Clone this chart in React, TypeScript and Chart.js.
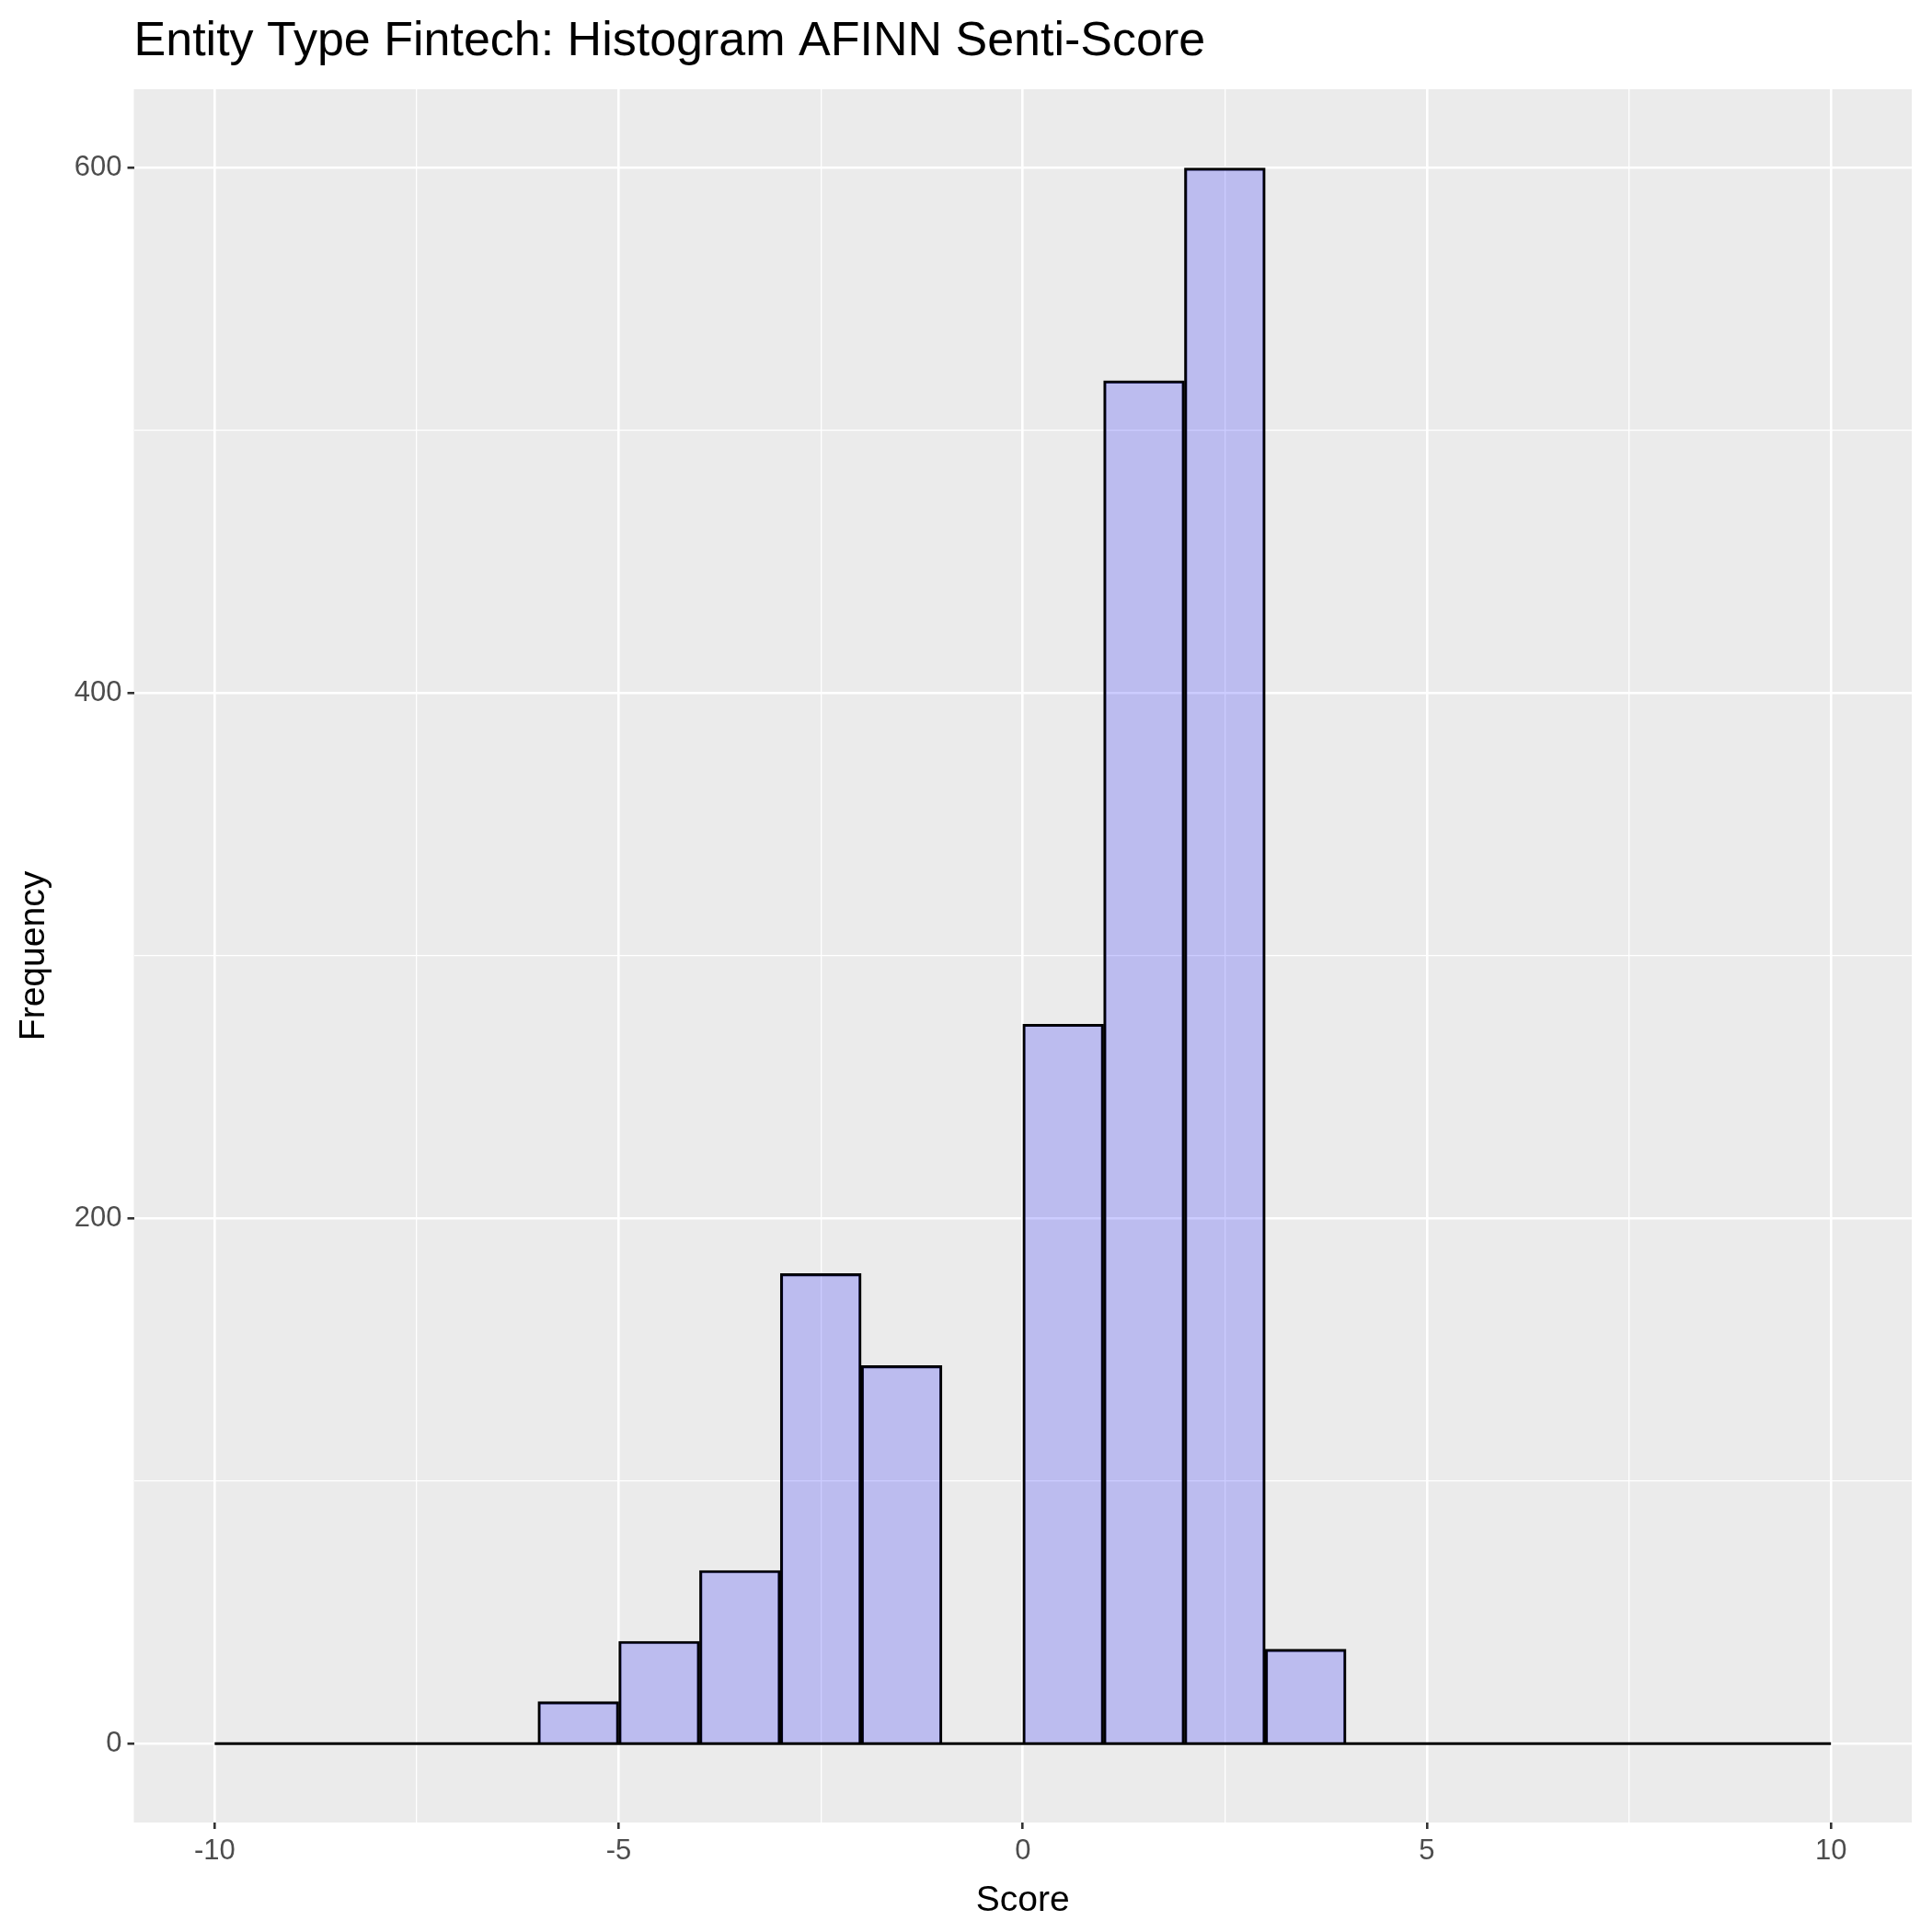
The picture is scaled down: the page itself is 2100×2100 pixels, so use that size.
import { useEffect, useRef } from "react";
import Chart from "chart.js/auto";

// histogram bins: left edges and counts (binwidth 1)
const binStarts = [-10, -9, -8, -7, -6, -5, -4, -3, -2, -1, 0, 1, 2, 3, 4, 5, 6, 7, 8, 9];
const counts = [0, 0, 0, 0, 16, 39, 66, 179, 144, 0, 274, 519, 600, 36, 0, 0, 0, 0, 0, 0];
const xMajorTicks = [-10, -5, 0, 5, 10];
const xGridTicks = [-10, -7.5, -5, -2.5, 0, 2.5, 5, 7.5, 10];
const yGridTicks = [0, 100, 200, 300, 400, 500, 600];
const yLabelTicks = [0, 200, 400, 600];

const panelBg = {
    id: "panelBg",
    beforeDraw(chart: Chart) {
        const { ctx, chartArea } = chart;
        ctx.save();
        ctx.fillStyle = "#EBEBEB";
        ctx.fillRect(chartArea.left, chartArea.top, chartArea.right - chartArea.left, chartArea.bottom - chartArea.top);
        ctx.restore();
    },
    afterDraw(chart: Chart) {
        const { ctx, chartArea } = chart;
        ctx.save();
        ctx.fillStyle = "#000000";
        ctx.font = "52px 'Liberation Sans', Arial, sans-serif";
        ctx.textBaseline = "middle";
        ctx.fillText("Entity Type Fintech: Histogram AFINN Senti-Score", chartArea.left, 46);
        ctx.restore();
    },
};

export default function App() {
    const canvasRef = useRef<HTMLCanvasElement | null>(null);

    useEffect(() => {
        const canvas = canvasRef.current;
        if (!canvas) return;
        const font = "'Liberation Sans', Arial, sans-serif";
        const isMajorX = (v: number) => xMajorTicks.includes(v);
        const isMajorY = (v: number) => yLabelTicks.includes(v);

        const chart = new Chart(canvas, {
            type: "bar",
            data: {
                datasets: [
                    {
                        type: "bar",
                        data: binStarts.map((s, i) => ({ x: s + 0.5, y: counts[i] })),
                        backgroundColor: "rgba(0,0,255,0.2)",
                        borderColor: "#000000",
                        borderWidth: 2.5,
                        borderSkipped: "start",
                        barPercentage: 1,
                        categoryPercentage: 1,
                        order: 2,
                    },
                    {
                        type: "line",
                        data: [
                            { x: binStarts[0], y: 0 },
                            { x: binStarts[binStarts.length - 1] + 1, y: 0 },
                        ],
                        borderColor: "#000000",
                        borderWidth: 3,
                        pointRadius: 0,
                        order: 1,
                    },
                ] as any,
            },
            options: {
                animation: false,
                responsive: false,
                layout: { padding: { left: 14, right: 22, top: 97, bottom: 10 } },
                plugins: { legend: { display: false }, tooltip: { enabled: false }, title: { display: false } },
                scales: {
                    x: {
                        type: "linear",
                        min: -11,
                        max: 11,
                        offset: false,
                        afterBuildTicks: (s: any) => {
                            s.ticks = xGridTicks.map((v) => ({ value: v }));
                        },
                        grid: {
                            offset: false,
                            color: "#FFFFFF",
                            lineWidth: (c: any) => (isMajorX(c.tick?.value) ? 2.6 : 1.3),
                            tickColor: (c: any) => (isMajorX(c.tick?.value) ? "#333333" : "rgba(0,0,0,0)"),
                            tickLength: 7,
                        },
                        border: { display: false },
                        ticks: {
                            autoSkip: false,
                            maxRotation: 0,
                            color: "#4D4D4D",
                            font: { size: 31, family: font },
                            padding: 6,
                            callback: (v: any) => (isMajorX(Number(v)) ? String(v) : ""),
                        },
                        title: { display: true, text: "Score", color: "#000000", font: { size: 39, family: font }, padding: { top: 6, bottom: 0 } },
                    },
                    y: {
                        type: "linear",
                        min: -30,
                        max: 630,
                        afterBuildTicks: (s: any) => {
                            s.ticks = yGridTicks.map((v) => ({ value: v }));
                        },
                        grid: {
                            color: "#FFFFFF",
                            lineWidth: (c: any) => (isMajorY(c.tick?.value) ? 2.6 : 1.3),
                            tickColor: (c: any) => (isMajorY(c.tick?.value) ? "#333333" : "rgba(0,0,0,0)"),
                            tickLength: 7,
                        },
                        border: { display: false },
                        ticks: {
                            autoSkip: false,
                            color: "#4D4D4D",
                            font: { size: 31, family: font },
                            padding: 6,
                            callback: (v: any) => (isMajorY(Number(v)) ? String(v) : ""),
                        },
                        title: { display: true, text: "Frequency", color: "#000000", font: { size: 39, family: font }, padding: { top: 0, bottom: 14 } },
                    },
                },
            },
            plugins: [panelBg],
        });
        return () => chart.destroy();
    }, []);

    return (
        <div style={{ position: "absolute", left: 0, top: 0, width: 2100, height: 2100, background: "#FFFFFF" }}>
            <canvas ref={canvasRef} width={2100} height={2100} style={{ width: 2100, height: 2100 }} />
        </div>
    );
}
